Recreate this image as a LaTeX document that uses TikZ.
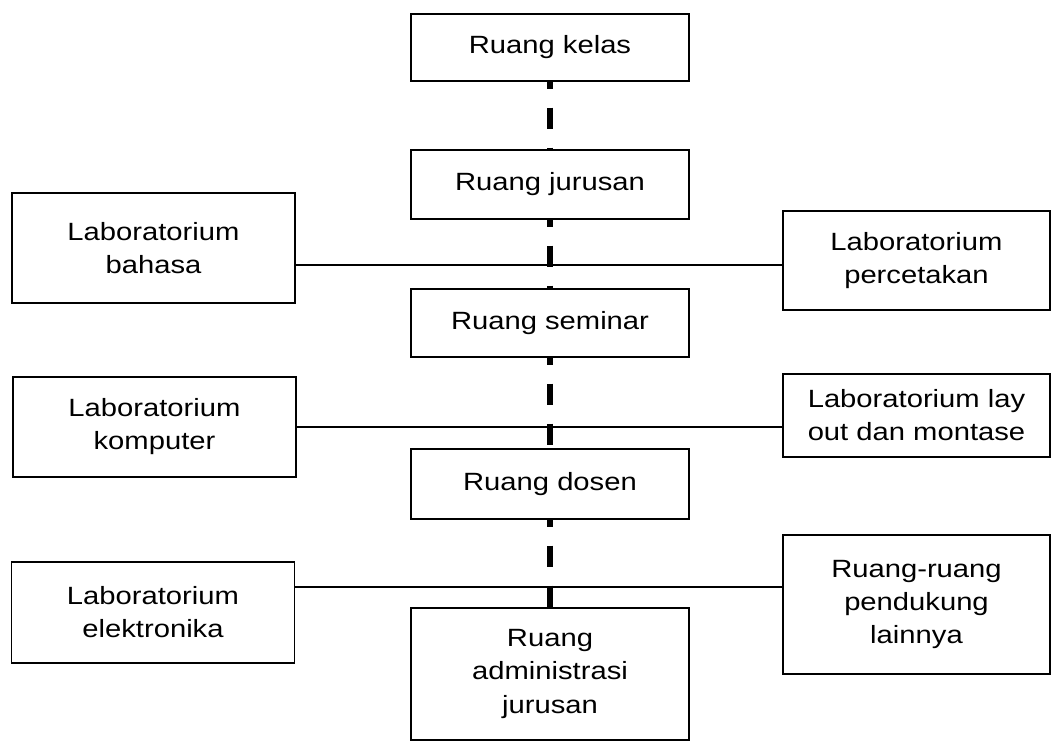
\documentclass[tikz,border=0pt]{standalone}
\usepackage{fontspec}
\setmainfont{Liberation Sans}[FakeStretch=1.17]
\begin{document}
\begin{tikzpicture}
  \tikzstyle{every node}+=[inner sep=0pt, align=center, font=\fontsize{14.2pt}{18.8pt}\selectfont]
  \tikzstyle{room}=[draw, line width=0.8pt, minimum width=5.56cm]
  \tikzstyle{lab}=[draw, line width=0.8pt, minimum width=5.66cm]
  \tikzstyle{lab2}=[draw, line width=0.8pt, minimum width=5.34cm]
  \tikzstyle{spine}=[line width=0.11cm, dash pattern=on 0.42cm off 0.38cm, dash phase=0.28cm]
  \useasboundingbox (0,0) rectangle (21.06,-14.84);
  \node [room, minimum height=1.34cm] (kelas) at (11.0,-0.95) {Ruang kelas};
  \node [room, minimum height=1.38cm] (jurusan) at (11.0,-3.69) {Ruang jurusan};
  \node [room, minimum height=1.36cm] (seminar) at (11.0,-6.46) {Ruang seminar};
  \node [room, minimum height=1.40cm] (dosen) at (11.0,-9.68) {Ruang dosen};
  \node [room, minimum height=2.64cm] (admin) at (11.0,-13.48) {Ruang\\administrasi\\jurusan};
  \node [lab, minimum height=2.20cm] (bahasa) at (3.07,-4.96) {Laboratorium\\bahasa};
  \node [lab, minimum height=2.00cm] (komputer) at (3.09,-8.54) {Laboratorium\\komputer};
  \node [lab, minimum height=2.02cm] (elektronika) at (3.06,-12.25) {Laboratorium\\elektronika};
  \node [lab2, minimum height=1.98cm] (cetak) at (18.33,-5.21) {Laboratorium\\percetakan};
  \node [lab2, minimum height=1.66cm] (layout) at (18.33,-8.31) {Laboratorium lay\\out dan montase};
  \node [lab2, minimum height=2.78cm] (pendukung) at (18.33,-12.09) {Ruang-ruang\\pendukung\\lainnya};
  \coordinate (j1) at (11.04,-5.30);
  \coordinate (j2) at (11.04,-8.54);
  \coordinate (j3) at (11.04,-11.74);
  \draw [line width=0.8pt] (bahasa.east |- j1) -- (cetak.west |- j1);
  \draw [line width=0.8pt] (komputer.east |- j2) -- (layout.west |- j2);
  \draw [line width=0.8pt] (elektronika.east |- j3) -- (pendukung.west |- j3);
  \draw [spine] (kelas.south) -- (jurusan.north);
  \draw [spine] (jurusan.south) -- (seminar.north);
  \draw [spine] (seminar.south) -- (dosen.north);
  \draw [spine] (dosen.south) -- (admin.north);
\end{tikzpicture}
\end{document}
